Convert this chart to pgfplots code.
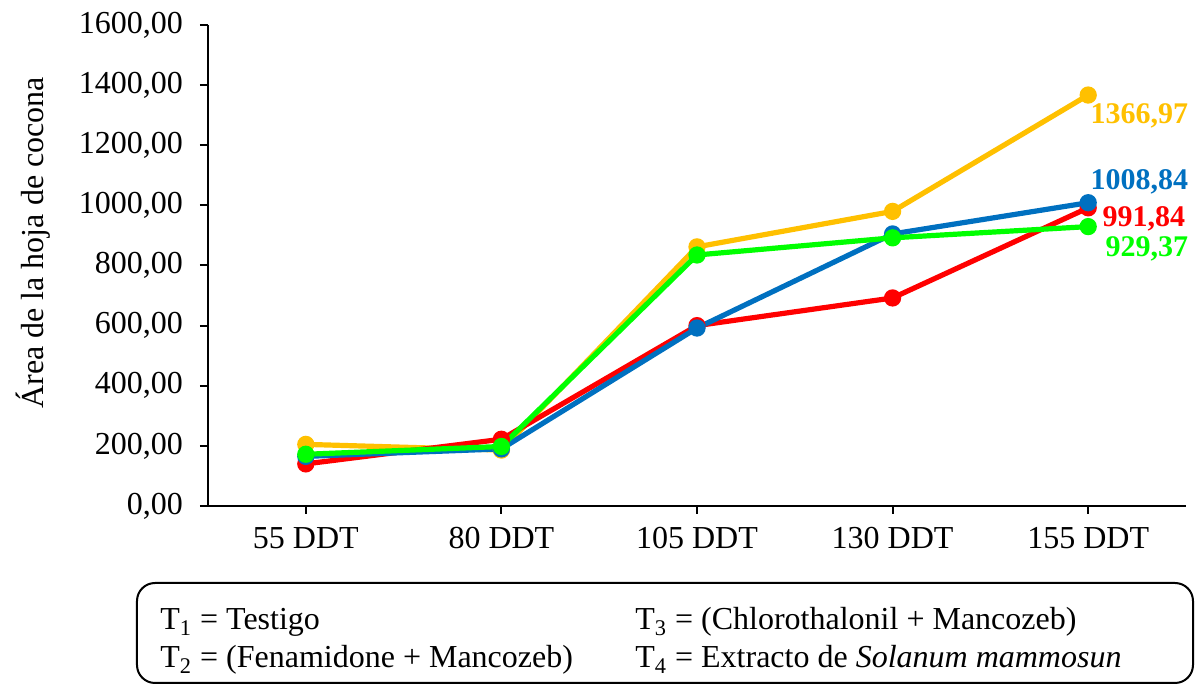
\documentclass[border=0pt]{standalone}
\usepackage{fontspec}
\setmainfont{Liberation Serif}
\usepackage{pgfplots}
\pgfplotsset{compat=1.18}

\definecolor{serA}{HTML}{FFC000}
\definecolor{serB}{HTML}{FF0000}
\definecolor{serC}{HTML}{0070C0}
\definecolor{serD}{HTML}{00FF00}

\pgfplotstableread{
x  ya      yb      yc      yd
0  205     140     165     172
1  186     222     190     198
2  862     600     592     835
3  980     692     905     892
4  1366.97 991.84  1008.84 929.37
}\areadata

\begin{document}
\begin{tikzpicture}
\useasboundingbox (-104pt,-89pt) rectangle (493.5pt,253pt);
\begin{axis}[
  at={(0pt,0pt)}, anchor=south west,
  scale only axis, width=489pt, height=240.5pt,
  xmin=-0.5, xmax=4.5, ymin=0, ymax=1600,
  axis x line*=bottom, axis y line*=left,
  axis line style={line width=1pt, black},
  xtick={0,1,2,3,4},
  xticklabels={55 DDT,80 DDT,105 DDT,130 DDT,155 DDT},
  ytick={0,200,...,1600},
  tick align=outside, major tick length=4pt,
  tick style={line width=1pt, black},
  /pgf/number format/assume math mode=true,
  yticklabel style={/pgf/number format/fixed, /pgf/number format/fixed zerofill,
    /pgf/number format/precision=2, /pgf/number format/use comma,
    /pgf/number format/1000 sep={}, xshift=-5pt},
  ticklabel style={font=\fontsize{16}{19}\selectfont},
  xticklabel style={yshift=-3pt},
  ylabel={Área de la hoja de cocona},
  ylabel style={font=\fontsize{16}{19}\selectfont, at={(axis description cs:-0.179,0.547)}, anchor=center},
  clip=false,
  every axis plot/.append style={line width=2.6pt, mark=*, mark size=3pt},
]
\addplot[color=serA, mark options={fill=serA}] table[x=x,y=ya] {\areadata};
\addplot[color=serB, mark options={fill=serB}] table[x=x,y=yb] {\areadata};
\addplot[color=serC, mark options={fill=serC}] table[x=x,y=yc] {\areadata};
\addplot[color=serD, mark options={fill=serD}] table[x=x,y=yd] {\areadata};

% final values written beside the last points
\begin{scope}[every node/.style={font=\fontsize{15}{18}\selectfont\bfseries, anchor=base west, inner sep=0pt}]
\node[text=serA, xshift=1pt, yshift=-14pt] at (axis cs:4,1366.97) {1366,97};
\node[text=serC, xshift=1pt, yshift=6.5pt] at (axis cs:4,1008.84) {1008,84};
\node[text=serB, xshift=7pt, yshift=-9.5pt] at (axis cs:4,991.84) {991,84};
\node[text=serD, xshift=8.5pt, yshift=-15pt] at (axis cs:4,929.37) {929,37};
\end{scope}
\end{axis}

% treatment key
\draw[line width=1pt, rounded corners=9pt] (-35.5pt,-38.5pt) rectangle (492.5pt,-88.5pt);
\begin{scope}[every node/.style={font=\fontsize{16}{19}\selectfont, anchor=base west, inner sep=0pt}]
\node at (-24pt,-62pt) {T\textsubscript{1} = Testigo};
\node at (213.5pt,-62pt) {T\textsubscript{3} = (Chlorothalonil + Mancozeb)};
\node at (-24pt,-81pt) {T\textsubscript{2} = (Fenamidone + Mancozeb)};
\node at (213.5pt,-81pt) {T\textsubscript{4} = Extracto de \textit{Solanum mammosun}};
\end{scope}
\end{tikzpicture}
\end{document}
